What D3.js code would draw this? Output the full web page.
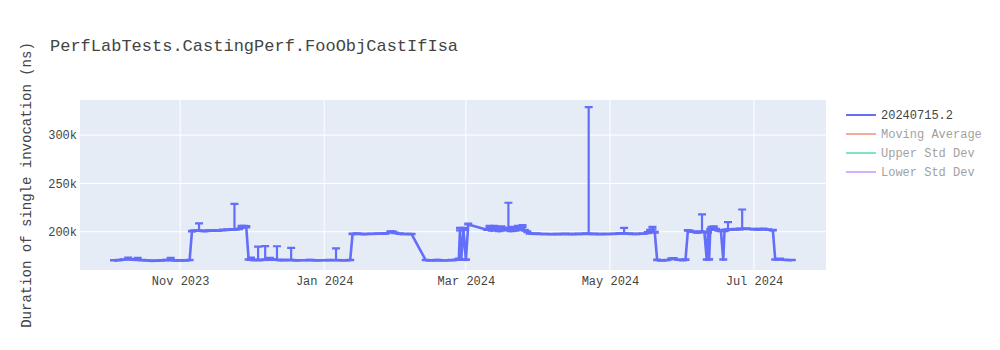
<!DOCTYPE html>
<html>
<head>
<meta charset="utf-8">
<script src="https://cdn.jsdelivr.net/npm/d3@7"></script>
<style>
  body { margin: 0; background: #fff; }
  svg text { font-family: "Liberation Mono", "Courier New", monospace; fill: #444; }
</style>
</head>
<body>
<svg id="chart"></svg>
<script>
// run dates, mean duration (k ns) and upper error (k ns)
var dates = [
  "2023-10-04","2023-10-06","2023-10-08","2023-10-10","2023-10-11","2023-10-13","2023-10-14","2023-10-16",
  "2023-10-18","2023-10-20","2023-10-22","2023-10-24","2023-10-26","2023-10-28","2023-10-30","2023-11-01",
  "2023-11-03","2023-11-05","2023-11-06","2023-11-07","2023-11-09","2023-11-11","2023-11-13","2023-11-15",
  "2023-11-17","2023-11-19","2023-11-21","2023-11-23","2023-11-24","2023-11-26","2023-11-27","2023-11-28",
  "2023-11-29","2023-11-30","2023-12-01","2023-12-03","2023-12-04","2023-12-05","2023-12-07","2023-12-08",
  "2023-12-09","2023-12-10","2023-12-12","2023-12-13","2023-12-15","2023-12-18","2023-12-20","2023-12-23",
  "2023-12-26","2023-12-29","2024-01-01","2024-01-03","2024-01-06","2024-01-09","2024-01-12","2024-01-13",
  "2024-01-15","2024-01-18","2024-01-21","2024-01-24","2024-01-27","2024-01-29","2024-01-30","2024-01-31",
  "2024-02-02","2024-02-04","2024-02-07","2024-02-13","2024-02-15","2024-02-18","2024-02-21","2024-02-24",
  "2024-02-26","2024-02-27","2024-02-27T12:00","2024-02-28","2024-02-29","2024-03-01","2024-03-02","2024-03-10",
  "2024-03-11","2024-03-12","2024-03-13","2024-03-14","2024-03-15","2024-03-16","2024-03-17","2024-03-18",
  "2024-03-19","2024-03-20","2024-03-21","2024-03-22","2024-03-23","2024-03-24","2024-03-25","2024-03-26",
  "2024-03-27","2024-03-28","2024-03-31","2024-04-03","2024-04-06","2024-04-09","2024-04-12","2024-04-15",
  "2024-04-18","2024-04-21","2024-04-22","2024-04-24","2024-04-27","2024-04-30","2024-05-03","2024-05-05",
  "2024-05-07","2024-05-09","2024-05-12","2024-05-15","2024-05-17","2024-05-18","2024-05-19","2024-05-20",
  "2024-05-21","2024-05-23","2024-05-25","2024-05-27","2024-05-28","2024-05-30","2024-06-01","2024-06-02",
  "2024-06-03","2024-06-04","2024-06-05","2024-06-07","2024-06-08","2024-06-09","2024-06-10","2024-06-11",
  "2024-06-11T12:00","2024-06-12","2024-06-12T12:00","2024-06-13","2024-06-14","2024-06-15","2024-06-16","2024-06-17",
  "2024-06-18","2024-06-18T12:00","2024-06-19","2024-06-20","2024-06-21","2024-06-23","2024-06-25","2024-06-26",
  "2024-06-28","2024-07-01","2024-07-03","2024-07-05","2024-07-07","2024-07-09","2024-07-10","2024-07-12",
  "2024-07-14","2024-07-17"
];
var values = [
  170.4,170.6,171.0,172.5,171.2,170.8,170.9,170.5,
  170.3,169.8,169.9,170.4,170.6,170.9,170.2,170.4,
  170.3,170.6,200.4,200.8,201.2,200.6,200.9,201.2,
  201.0,201.6,201.8,202.2,202.4,202.6,204.5,205.0,
  204.6,171.0,170.8,170.6,171.0,170.5,171.2,170.8,
  172.0,171.0,171.0,170.5,170.6,170.8,170.4,170.5,
  170.6,170.4,170.5,170.5,170.7,170.4,170.6,197.6,
  197.8,197.5,197.7,197.9,198.0,199.5,199.8,198.6,
  197.8,197.6,197.5,170.5,170.4,170.6,170.3,170.5,
  170.8,171.2,201.5,171.0,202.0,170.8,207.5,202.0,
  204.5,201.0,205.0,202.5,200.5,204.0,201.5,203.0,
  202.0,200.5,203.5,201.0,204.5,202.0,205.0,201.0,
  199.5,198.0,197.8,197.6,197.4,197.5,197.7,197.5,
  197.6,197.8,197.9,197.6,197.5,197.6,197.7,198.0,
  198.2,197.8,197.6,197.9,198.5,200.0,202.5,199.0,
  170.6,170.3,170.5,171.5,172.2,170.8,170.6,170.9,
  201.0,200.5,199.8,199.0,199.5,200.0,199.5,171.0,
  199.0,171.2,202.0,203.5,204.5,202.0,201.0,200.5,
  171.0,200.5,201.5,202.5,202.0,202.3,202.5,203.0,
  202.8,202.5,202.2,202.6,202.0,201.5,171.0,171.5,
  170.8,170.5
];
var errPlus = [
  0.3,0.2,0.5,0.8,0.4,0.3,2.2,0.3,
  0.2,0.3,0.2,0.3,0.4,2.2,0.3,0.2,
  0.2,0.3,0.5,0.6,7.5,0.5,0.4,0.6,
  0.4,0.5,0.6,0.5,26.5,0.7,1.5,1.0,
  1.2,0.5,2.5,0.4,13.5,0.4,14.0,0.4,
  1.0,0.5,14.0,0.3,0.3,12.5,0.3,0.2,
  0.3,0.3,0.2,0.3,12.0,0.3,0.3,0.5,
  0.4,0.4,0.3,0.4,0.5,0.8,0.6,0.4,
  0.4,0.3,0.3,0.3,0.2,0.3,0.2,0.3,
  0.4,1.0,2.5,0.5,2.0,0.5,1.0,0.8,
  1.5,1.0,1.2,1.5,1.0,1.5,1.0,1.2,
  28.0,1.0,1.5,1.0,1.5,1.0,1.8,1.0,
  1.0,0.5,0.4,0.3,0.3,0.4,0.3,0.3,
  0.4,0.5,131.0,0.4,0.3,0.3,0.4,0.5,
  5.8,0.4,0.4,0.5,1.0,2.0,2.5,1.0,
  0.5,0.3,0.3,1.0,0.6,0.4,0.3,0.4,
  0.8,0.6,0.5,0.6,0.8,18.0,0.6,0.5,
  0.5,0.5,1.0,1.5,1.0,1.0,0.8,0.6,
  0.5,0.6,0.8,7.5,0.8,0.6,0.8,20.0,
  0.6,0.5,0.8,0.6,0.5,0.5,0.5,0.8,
  0.4,0.3
];
var yTicks = [200000, 250000, 300000];
var legendNames = ["20240715.2", "Moving Average", "Upper Std Dev", "Lower Std Dev"];
var legendColors = ["#636efa", "#EF553B", "#00cc96", "#ab63fa"];
var legendHidden = [false, true, true, true];

var W = 1000, H = 350;
var m = {left: 80, right: 174, top: 100, bottom: 80};
var pw = W - m.left - m.right, ph = H - m.top - m.bottom;

var parse = d3.isoParse;
var data = dates.map(function(d, i) {
  return {date: parse(d), v: values[i] * 1000, e: errPlus[i] * 1000};
});

var x = d3.scaleTime()
  .domain([new Date(2023, 8, 19, 14), new Date(2024, 6, 31, 12)])
  .range([0, pw]);
var y = d3.scaleLinear().domain([160400, 336300]).range([ph, 0]);

var svg = d3.select("#chart").attr("width", W).attr("height", H);

svg.append("text")
  .attr("x", 50).attr("y", 51)
  .style("font-size", "17px")
  .text("PerfLabTests.CastingPerf.FooObjCastIfIsa");

var g = svg.append("g").attr("transform", "translate(" + m.left + "," + m.top + ")");

g.append("rect").attr("width", pw).attr("height", ph).attr("fill", "#E5ECF6");

var xTicks = x.ticks(d3.timeMonth.every(2));

g.selectAll(".vgrid").data(xTicks).enter().append("line")
  .attr("x1", d => x(d)).attr("x2", d => x(d))
  .attr("y1", 0).attr("y2", ph)
  .attr("stroke", "#fff").attr("stroke-width", 1);
g.selectAll(".hgrid").data(yTicks).enter().append("line")
  .attr("x1", 0).attr("x2", pw)
  .attr("y1", d => y(d)).attr("y2", d => y(d))
  .attr("stroke", "#fff").attr("stroke-width", 1);

// axes (plotly style: no domain line, no tick marks)
var xAxis = g.append("g").attr("transform", "translate(0," + ph + ")")
  .call(d3.axisBottom(x).tickValues(xTicks).tickFormat(d3.timeFormat("%b %Y")).tickSize(0).tickPadding(6));
var yAxis = g.append("g")
  .call(d3.axisLeft(y).tickValues(yTicks).tickFormat(d => (d / 1000) + "k").tickSize(0).tickPadding(3));
[xAxis, yAxis].forEach(function(a) {
  a.select(".domain").remove();
  a.selectAll("text").style("font-size", "12px").style("font-family", "Liberation Mono").attr("fill", "#444");
});

svg.append("text")
  .attr("transform", "translate(31," + (m.top + ph / 2) + ") rotate(-90)")
  .attr("text-anchor", "middle")
  .style("font-size", "14px")
  .text("Duration of single invocation (ns)");

svg.append("clipPath").attr("id", "clip").append("rect").attr("width", pw).attr("height", ph);
var plot = g.append("g").attr("clip-path", "url(#clip)");

var blue = "#636efa";
var line = d3.line().x(d => x(d.date)).y(d => y(d.v));
plot.append("path").datum(data)
  .attr("d", line)
  .attr("fill", "none")
  .attr("stroke", blue)
  .attr("stroke-width", 2.6)
  .attr("stroke-linejoin", "round");

// error bars, upward only, caps on both ends
plot.selectAll(".err").data(data).enter().append("path")
  .attr("d", function(d) {
    var cx = x(d.date), yh = y(d.v + d.e), ys = y(d.v), w = 4;
    return "M" + (cx - w) + "," + yh + "h" + (2 * w) + "m-" + w + ",0V" + ys + "m-" + w + ",0h" + (2 * w);
  })
  .attr("fill", "none")
  .attr("stroke", blue)
  .attr("stroke-width", 2.2);

// legend
var leg = svg.append("g").attr("transform", "translate(846,115)");
var items = leg.selectAll("g").data(legendNames).enter().append("g")
  .attr("transform", (d, i) => "translate(0," + (i * 19) + ")")
  .attr("opacity", (d, i) => legendHidden[i] ? 0.5 : 1);
items.append("line")
  .attr("x1", 0).attr("x2", 30)
  .attr("stroke", (d, i) => legendColors[i])
  .attr("stroke-width", 2);
items.append("text")
  .attr("x", 35).attr("dy", "0.35em")
  .style("font-size", "12px")
  .text(d => d);
</script>
</body>
</html>
